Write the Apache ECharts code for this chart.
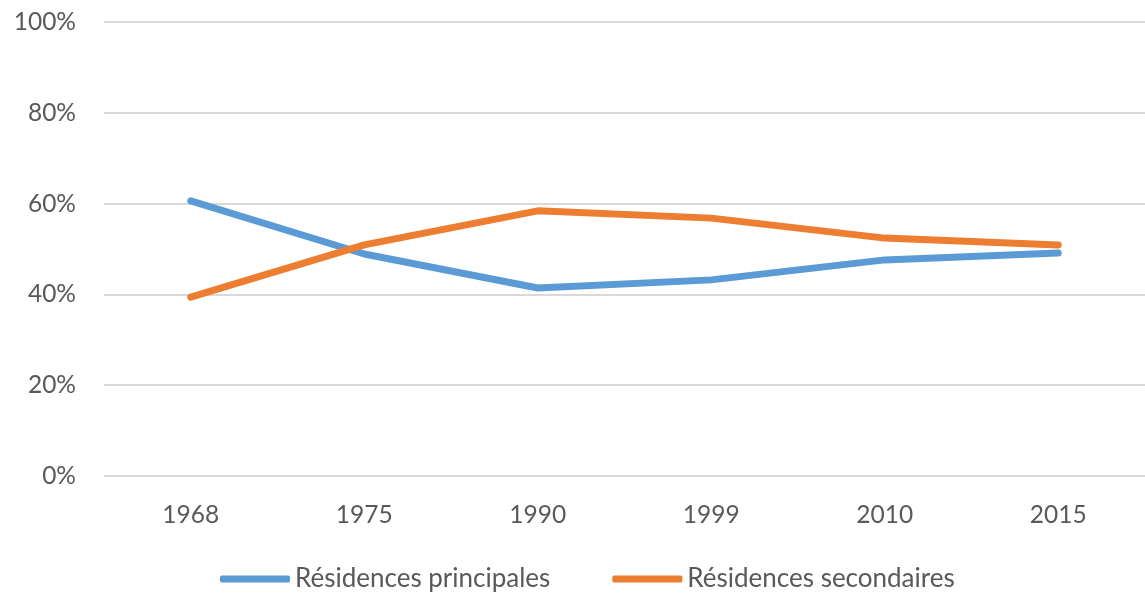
<!DOCTYPE html>
<html>
<head>
<meta charset="utf-8">
<script src="https://cdn.jsdelivr.net/npm/echarts@6/dist/echarts.min.js"></script>
<style>
  html, body { margin: 0; padding: 0; background: #fff; }
  #chart { width: 1145px; height: 595px; }
</style>
</head>
<body>
<div id="chart"></div>
<script>
var years = ['1968', '1975', '1990', '1999', '2010', '2015'];
var principales = [60.6, 48.9, 41.4, 43.2, 47.6, 49.1];
var secondaires = [39.4, 50.9, 58.4, 56.8, 52.4, 50.9];

var myChart = echarts.init(document.getElementById('chart'));
var font = 'Lato, "Open Sans", sans-serif';

var option = {
    animation: false,
    textStyle: { fontFamily: font },
    color: ['#5b9bd5', '#ed7d31'],
    grid: {
        left: 104,
        top: 22,
        width: 1063,
        height: 454
    },
    legend: {
        top: 565,
        left: 220,
        padding: 0,
        icon: 'roundRect',
        itemWidth: 70,
        itemHeight: 7,
        itemGap: 62,
        textStyle: { color: '#595959', fontSize: 26, lineHeight: 28, fontFamily: font },
        data: ['Résidences principales', 'Résidences secondaires']
    },
    xAxis: {
        type: 'category',
        data: years,
        axisLine: { show: false },
        axisTick: { show: false },
        axisLabel: { color: '#595959', fontSize: 24.5, margin: 27 }
    },
    yAxis: {
        type: 'value',
        min: 0,
        max: 100,
        interval: 20,
        axisLine: { show: false },
        axisTick: { show: false },
        axisLabel: {
            color: '#595959',
            fontSize: 24.5,
            margin: 28,
            formatter: '{value}%'
        },
        splitLine: { lineStyle: { color: '#d9d9d9', width: 2 } }
    },
    series: [
        {
            name: 'Résidences principales',
            type: 'line',
            data: principales,
            showSymbol: false,
            lineStyle: { width: 7, cap: 'round', join: 'round' }
        },
        {
            name: 'Résidences secondaires',
            type: 'line',
            data: secondaires,
            showSymbol: false,
            lineStyle: { width: 7, cap: 'round', join: 'round' }
        }
    ]
};

myChart.setOption(option);
</script>
</body>
</html>
